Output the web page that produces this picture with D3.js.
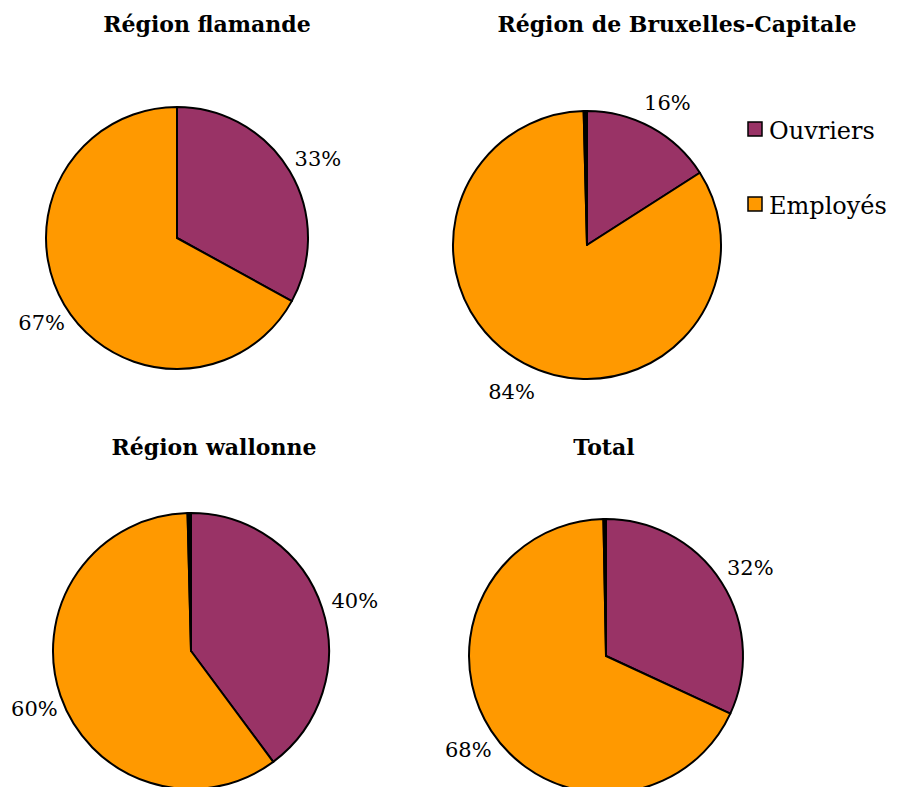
<!DOCTYPE html>
<meta charset="utf-8">
<style>
body { margin: 0; background: #fff; }
text { font-family: "DejaVu Serif", serif; fill: #000; }
.title { font-weight: bold; font-size: 22px; }
.pct { font-size: 21px; }
.legend text { font-size: 24px; }
</style>
<body>
<script src="https://d3js.org/d3.v7.min.js"></script>
<script>

// data
var regions = ["Région flamande", "Région de Bruxelles-Capitale", "Région wallonne", "Total"];
var categories = ["Ouvriers", "Employés"];
var ouvriers = [33, 16, 40, 32];
var employes = [67, 84, 60, 68];
var autres = [0, 0.4, 0.4, 0.3];   // thin unlabeled sliver at the top of some pies

// layout for each panel (centre, radius, title position)
var panels = [
  {cx: 177, cy: 238, r: 131, tx: 207, ty: 32},
  {cx: 587, cy: 245, r: 134, tx: 677, ty: 32},
  {cx: 191, cy: 651, r: 138, tx: 214, ty: 455},
  {cx: 606, cy: 656, r: 137, tx: 604, ty: 455}
];

var width = 897, height = 787;

var color = d3.scaleOrdinal()
    .domain(["Ouvriers", "Employés", "Autres"])
    .range(["#993366", "#FF9900", "#000000"]);

var svg = d3.select("body").append("svg")
    .attr("width", width)
    .attr("height", height);

var pie = d3.pie()
    .sort(null)
    .value(function(d) { return d.value; });

regions.forEach(function(name, i) {
  var p = panels[i];
  var slices = [
    {key: "Ouvriers", value: ouvriers[i], label: ouvriers[i] + "%"},
    {key: "Employés", value: employes[i], label: employes[i] + "%"},
    {key: "Autres", value: autres[i], label: null}
  ];

  var arc = d3.arc().innerRadius(0).outerRadius(p.r);
  // labels sit a bit closer on the left-hand side, like the original
  var labelArcR = d3.arc().innerRadius(p.r * 1.25).outerRadius(p.r * 1.25);
  var labelArcL = d3.arc().innerRadius(p.r * 1.2).outerRadius(p.r * 1.2);

  var g = svg.append("g")
      .attr("transform", "translate(" + p.cx + "," + p.cy + ")");

  var arcs = pie(slices);

  g.selectAll("path")
      .data(arcs)
    .enter().append("path")
      .attr("d", arc)
      .attr("fill", function(d) { return color(d.data.key); })
      .attr("stroke", "#000")
      .attr("stroke-width", 2)
      .attr("stroke-linejoin", "round");

  g.selectAll("text")
      .data(arcs.filter(function(d) { return d.data.label; }))
    .enter().append("text")
      .attr("class", "pct")
      .attr("transform", function(d) {
        var mid = (d.startAngle + d.endAngle) / 2;
        var la = mid > Math.PI ? labelArcL : labelArcR;
        return "translate(" + la.centroid(d) + ")";
      })
      .attr("text-anchor", "middle")
      .attr("dy", "0.55em")
      .text(function(d) { return d.data.label; });

  svg.append("text")
      .attr("class", "title")
      .attr("x", p.tx)
      .attr("y", p.ty)
      .attr("text-anchor", "middle")
      .text(name);
});

// legend
var legend = svg.append("g")
    .attr("class", "legend")
    .attr("transform", "translate(748,122)");

var item = legend.selectAll("g")
    .data(categories)
  .enter().append("g")
    .attr("transform", function(d, i) { return "translate(0," + (i * 75) + ")"; });

item.append("rect")
    .attr("width", 14)
    .attr("height", 14)
    .attr("fill", function(d) { return color(d); })
    .attr("stroke", "#000")
    .attr("stroke-width", 1.5);

item.append("text")
    .attr("x", 21)
    .attr("y", 17)
    .text(function(d) { return d; });

</script>
</body>
